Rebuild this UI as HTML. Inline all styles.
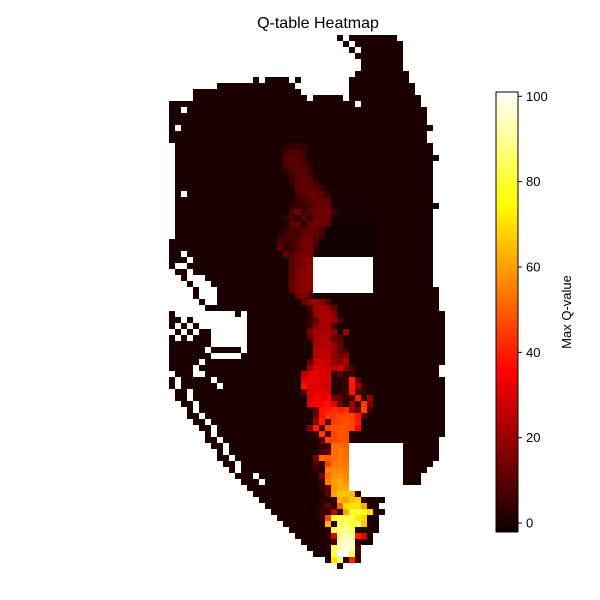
<!DOCTYPE html>
<html><head><meta charset="utf-8">
<style>
html,body{margin:0;padding:0;background:#fff;}
svg{display:block;font-family:"Liberation Sans","DejaVu Sans",sans-serif;}
</style></head>
<body>
<svg id="chart" width="600" height="600" viewBox="0 0 600 600">
  <defs>
    <linearGradient id="hotgrad" x1="0" y1="1" x2="0" y2="0">
      <stop offset="0" stop-color="#0b0000"/>
      <stop offset="0.365" stop-color="#ff0000"/>
      <stop offset="0.746" stop-color="#ffff00"/>
      <stop offset="1" stop-color="#ffffff"/>
    </linearGradient>
  </defs>
  <text x="318" y="28" text-anchor="middle" font-size="16" fill="#000">Q-table Heatmap</text>
  <g id="cells" shape-rendering="crispEdges"></g>
  <g id="cbar">
    <rect x="496" y="92" width="22" height="440" fill="url(#hotgrad)" stroke="#000" stroke-width="1"/>
  </g>
  <text transform="translate(571,312) rotate(-90)" text-anchor="middle" font-size="13" fill="#000">Max Q-value</text>
</svg>
<script>
// grid spans of visited states per row: [startCol, endCol] segments
const rowSpans = [
 [[28,28],[30,37]],[[29,29],[31,38]],[[30,30],[32,38]],[[31,38]],[[32,38]],[[32,38]],[[31,39]],
 [[14,14],[16,19],[21,21],[30,39]],[[8,20],[30,40]],[[4,21],[30,40]],[[4,22],[24,28],[30,41]],
 [[0,30],[32,41]],[[0,1],[3,42]],[[0,42]],[[0,42]],[[0,0],[2,43]],[[0,42]],[[0,42]],
 [[1,43]],[[1,43]],[[1,44]],[[1,43]],[[1,43]],[[1,43]],[[1,43]],[[1,43]],[[1,1],[3,43]],[[1,43]],[[1,44]],
 [[1,43]],[[1,43]],[[1,43]],[[1,43]],[[1,43]],[[0,43]],[[0,43]],[[0,1],[3,43]],
 [[0,2],[4,23],[34,43]],[[0,0],[3,23],[34,43]],[[1,2],[4,23],[34,43]],[[2,2],[6,23],[34,43]],
 [[3,3],[7,23],[34,43]],[[4,4],[8,23],[34,44]],
 [[4,4],[8,44]],[[5,5],[8,44]],[[6,44]],[[0,0],[11,11],[13,45]],
 [[0,1],[3,3],[13,45]],[[0,0],[2,2],[4,4],[13,45]],[[1,1],[3,3],[5,6],[13,45]],[[0,0],[2,2],[4,6],[13,45]],
 [[0,6],[13,45]],[[0,5],[7,11],[13,45]],[[0,6],[12,45]],
 [[0,4],[6,45]],[[0,3],[5,44]],[[1,3],[6,44]],[[0,0],[2,6],[8,45]],[[0,0],[2,7],[9,45]],
 [[1,2],[4,45]],[[1,2],[4,45]],[[2,3],[5,45]],[[3,3],[5,45]],[[3,4],[6,45]],[[4,5],[7,45]],[[5,6],[8,45]],[[6,6],[8,45]],
 [[6,7],[9,44]],[[7,8],[10,29],[39,44]],[[8,8],[10,29],[39,44]],[[8,9],[11,29],[39,44]],
 [[9,10],[12,29],[39,43]],[[10,10],[12,29],[39,42]],[[11,13],[15,29],[39,41]],[[12,14],[16,29],[39,41]],
 [[13,29]],[[14,31]],[[15,35]],[[16,34]],[[17,35]],[[18,34]],[[19,34]],[[20,34]],[[21,33]],[[22,33]],
 [[23,31]],[[24,31]],[[26,31]],[[28,28]]
];
const baseValue = 0.5;
// shaded low-value regions: [rowStart,rowEnd,colStart,colEnd,value]
const shadeBlocks = [[27,30,26,33,-0.3],[31,36,25,33,-1.0]];
// trail: row index, start column, values
const trailRows = [18,19,20,21,22,23,24,25,26,27,28,29,30,31,32,33,34,35,36,37,38,39,40,41,42,
 43,44,45,46,47,48,49,50,51,52,53,54,55,56,57,58,59,60,61,62,63,64,65,
 66,67,68,69,70,71,72,73,74,75,76,77,78,79,80,81,82,83,84,85,86,87,88];
const trailStarts = [19,19,19,19,19,20,20,21,21,21,20,20,19,20,19,18,18,18,19,20,20,20,20,20,20,
 21,22,23,23,23,23,23,23,24,24,24,23,23,22,22,22,22,23,23,24,24,24,23,
 24,25,25,25,24,24,24,25,25,25,26,25,25,25,25,25,26,26,27,26,27,27,28];
const trailValues = [
 [3,4,4,3],[6,8,8,5],[8,10,10,6],[8,10,10,8,4],[5,8,10,10,5],[6,10,10,8],[4,10,12,10,6],
 [10,12,12,10,5],[8,10,12,12,10,5],[6,8,10,12,12,10],[4,6,5,8,12,12,12],[8,14,6,10,14,14,14,6],
 [4,8,2,10,4,12,14,12],[10,12,2,12,14,12,10],[4,8,6,10,12,12,8],[4,6,8,8,12,14,10,5],
 [8,5,6,10,14,14,8],[10,4,6,10,14,14,6],[12,8,12,14,14],
 [10,14,16,18,4],[10,14,16,18,4],[10,15,17,18,4],[12,16,18,18,4],[12,16,18,18,4],[12,16,18,16,4],
 [12,15,8],[12,18,20,18,10],[8,20,22,20,12],[4,20,22,22,18],[5,12,22,22,20,8],[5,18,22,22,8],
 [14,22,22,22,18,2,20],[10,22,24,22,12,10],[22,24,24,18,12],[24,26,24,20,12,6],[24,26,26,18,14,18],
 [12,26,28,26,20,18,22],[22,30,30,28,24,28,18,8],[25,30,32,30,30,3,10,3,6],
 [30,32,32,28,30,2,2,5,40,10],[38,30,32,30,28,2,2,3,38,20,5],[10,30,32,32,30,2,4,6,38,8,3,2],
 [30,34,32,34,14,12,4,8,40,6,20],[34,36,36,38,32,14,2,20,4,44,16],[12,38,40,42,40,42,20,14,46,8],
 [14,38,44,44,46,46,46,38,10],[20,40,10,44,46,48,46,40],[16,40,10,46,48,48,48,46,35],
 [5,45,8,46,48,48,3],[10,46,46,48,48,2],[5,5,52,52,50],[8,12,52,54,52],[15,52,50,52,54,52],
 [8,5,45,54,54,54],[5,3,55,56,56,56],[15,52,58,58,56],[5,55,60,62,58],[5,10,58,62,62,4,3],
 [10,60,66,66,64,4],[3,2,4,62,60,66,68,3],[4,12,2,50,70,70,70,62,3],[6,4,25,2,60,78,80,78,70],
 [4,46,80,82,82,82,72,68],[2,64,3,85,84,82,85,66],[3,82,88,90,84,3,3],[3,30,90,94,92,40,30],
 [8,92,96,94,3],[3,82,92,98,94,8],[82,100,100,84,5],[70,86,2,40,5],[3]
];
const cbTicks = [0,20,40,60,80,100];

const vmin = -2.1, vmax = 101;
const x0 = 169, y0 = 35, cw = 6, ch = 6;
const cbTop = 92, cbBot = 532;
function xCol(c){ return x0 + c*cw; }
function yRow(r){ return y0 + r*ch; }
function cbY(v){ return cbBot - (v - vmin)/(vmax - vmin)*(cbBot - cbTop); }
function hot(v){
  let t = Math.max(0, Math.min(1, (v - vmin)/(vmax - vmin)));
  const r = Math.min(1, 0.0416 + (1-0.0416)*t/0.365);
  const g = Math.max(0, Math.min(1, (t-0.365)/(0.746-0.365)));
  const b = Math.max(0, Math.min(1, (t-0.746)/(1-0.746)));
  return 'rgb(' + Math.round(r*255) + ',' + Math.round(g*255) + ',' + Math.round(b*255) + ')';
}
const NS = 'http://www.w3.org/2000/svg';
const grid = {};
rowSpans.forEach(function(segs, r){
  segs.forEach(function(s){ for (let c = s[0]; c <= s[1]; c++) grid[r+','+c] = baseValue; });
});
shadeBlocks.forEach(function(b){
  for (let r = b[0]; r <= b[1]; r++) for (let c = b[2]; c <= b[3]; c++)
    if (grid[r+','+c] !== undefined) grid[r+','+c] = b[4];
});
trailRows.forEach(function(r, i){
  trailValues[i].forEach(function(v, j){
    const key = r+','+(trailStarts[i]+j);
    if (grid[key] !== undefined) grid[key] = v;
  });
});
const g = document.getElementById('cells');
Object.keys(grid).forEach(function(k){
  const p = k.split(','), r = +p[0], c = +p[1];
  const el = document.createElementNS(NS, 'rect');
  el.setAttribute('x', xCol(c)); el.setAttribute('y', yRow(r));
  el.setAttribute('width', cw); el.setAttribute('height', ch);
  el.setAttribute('fill', hot(grid[k]));
  
  
  g.appendChild(el);
});
const cb = document.getElementById('cbar');
cbTicks.forEach(function(v){
  const y = cbY(v);
  const ln = document.createElementNS(NS, 'line');
  ln.setAttribute('x1', 518); ln.setAttribute('x2', 522);
  ln.setAttribute('y1', y); ln.setAttribute('y2', y);
  ln.setAttribute('stroke', '#000');
  
  
  cb.appendChild(ln);
  const tx = document.createElementNS(NS, 'text');
  tx.setAttribute('x', 526); tx.setAttribute('y', y + 4.5);
  tx.setAttribute('font-size', '13');
  tx.textContent = v;
  
  
  cb.appendChild(tx);
});
</script>
</body></html>
